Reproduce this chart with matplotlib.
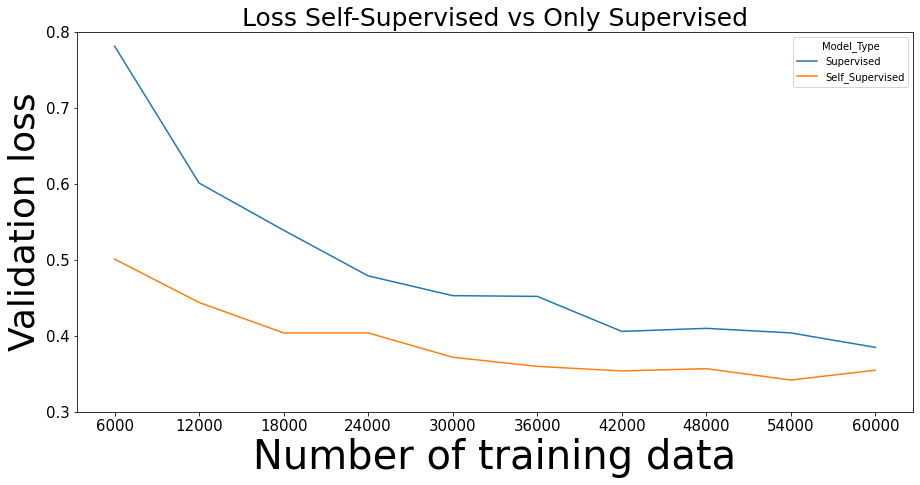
import matplotlib
matplotlib.use("Agg")
import matplotlib.pyplot as plt

# training set sizes
n_train = [6000, 12000, 18000, 24000, 30000, 36000, 42000, 48000, 54000, 60000]

# validation loss
loss_supervised = [0.781, 0.601, 0.539, 0.479, 0.453, 0.452, 0.406, 0.410, 0.404, 0.385]
loss_self_supervised = [0.501, 0.444, 0.404, 0.404, 0.372, 0.360, 0.354, 0.357, 0.342, 0.355]

series_names = ["Supervised", "Self_Supervised"]
series_colors = ["#1f77b4", "#ff7f0e"]

fig = plt.figure(figsize=(920 / 72, 485 / 72), dpi=72)
ax = fig.add_axes([0.0832, 0.1505, 0.9096, 0.7841])

for name, vals, col in zip(series_names, [loss_supervised, loss_self_supervised], series_colors):
    ax.plot(n_train, vals, color=col, linewidth=1.5, label=name)

ax.set_xticks(n_train)
ax.set_ylim(0.3, 0.8)
ax.set_yticks([0.3, 0.4, 0.5, 0.6, 0.7, 0.8])
ax.tick_params(axis='both', labelsize=15)

ax.set_title("Loss Self-Supervised vs Only Supervised", fontsize=25)
ax.set_xlabel("Number of training data", fontsize=40)
ax.set_ylabel("Validation loss", fontsize=36)

ax.legend(title="Model_Type", loc="upper right", fontsize=10, title_fontsize=10)

fig.savefig("out.png", dpi=72)
